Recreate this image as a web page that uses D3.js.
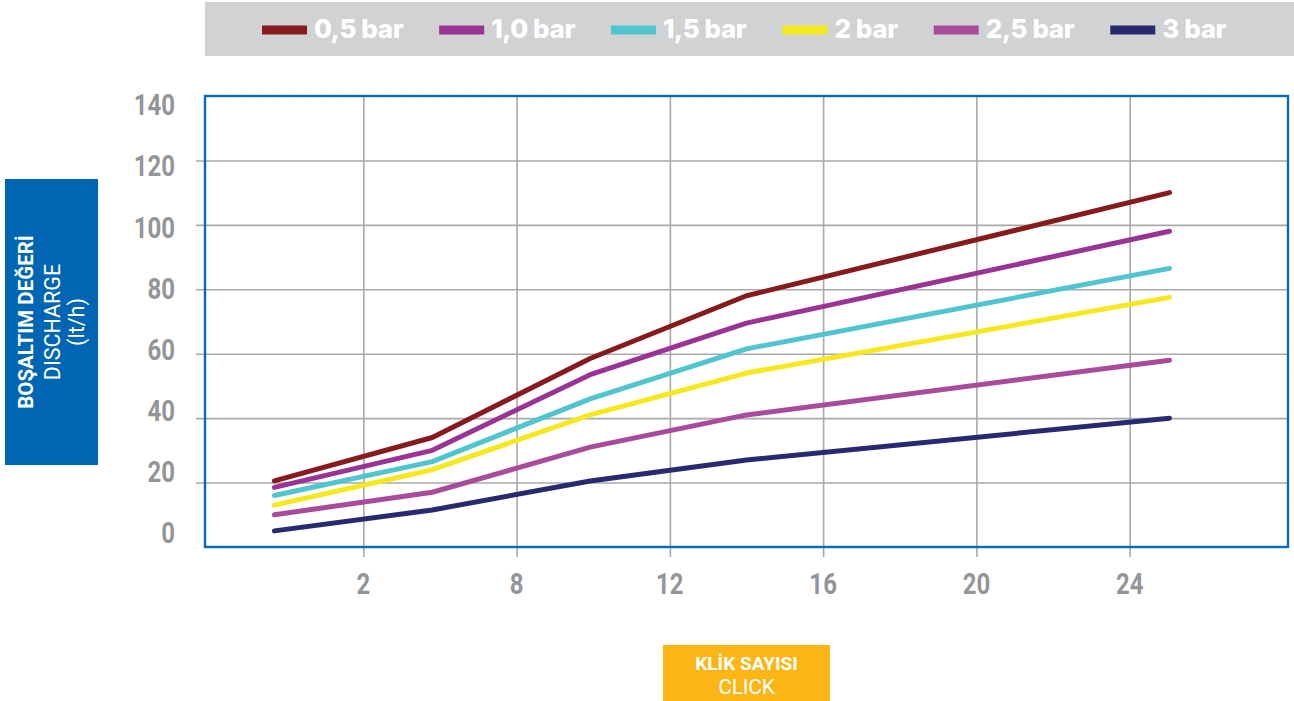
<!DOCTYPE html>
<html>
<head>
<meta charset="utf-8">
<script src="https://cdn.jsdelivr.net/npm/d3@7"></script>
<style>
  html, body { margin: 0; padding: 0; background: #ffffff; }
  svg { display: block; }
</style>
</head>
<body>
<svg id="chart" width="1294" height="701"></svg>
<script>
// Click-count categories on the horizontal axis
const clickTicks = ["2", "8", "12", "16", "20", "24"];
// Measurement positions along the click axis (in category-step units, 0 = "2")
const clickPos = [-0.58, 0.45, 1.48, 2.5, 5.26];

// Pressure series
const seriesNames = ["0,5 bar", "1,0 bar", "1,5 bar", "2 bar", "2,5 bar", "3 bar"];
const seriesColors = ["#861a1c", "#9a3494", "#50c5cf", "#f6e81e", "#a94b9b", "#272a6e"];

// Discharge values (lt/h)
const bar05 = [20.5, 34, 58.5, 78, 110];
const bar10 = [18.5, 30, 53.5, 69.5, 98];
const bar15 = [16, 26.5, 46, 61.5, 86.5];
const bar20 = [13, 24, 41, 54, 77.5];
const bar25 = [10, 17, 31, 41, 58];
const bar30 = [5, 11.5, 20.5, 27, 40];
const seriesValues = [bar05, bar10, bar15, bar20, bar25, bar30];

// Discharge axis ticks
const yTicks = [0, 20, 40, 60, 80, 100, 120, 140];

const svg = d3.select("#chart");

const plot = { left: 205, right: 1288, top: 96, bottom: 547 };

const x = d3.scaleLinear().domain([-1.033, 6.033]).range([plot.left, plot.right]);
const y = d3.scaleLinear().domain([0, 140]).range([plot.bottom, plot.top]);
// label column for the discharge axis is set slightly tighter than the grid
const yLabel = d3.scaleLinear().domain([0, 140]).range([532.5, 104.5]);

const gridColor = "#a7a9ac";
const labelGrey = "#939598";

// Horizontal grid lines
const yGrid = d3.axisLeft(y)
  .tickValues(yTicks.filter(v => v > 0 && v < 140))
  .tickSize(-(plot.right - 196))
  .tickFormat("");
svg.append("g")
  .attr("transform", `translate(196,0)`)
  .call(yGrid)
  .call(g => g.select(".domain").remove())
  .call(g => g.selectAll("line").attr("stroke", gridColor).attr("stroke-width", 1.6));

// Vertical grid lines
const xGrid = d3.axisBottom(x)
  .tickValues(d3.range(clickTicks.length))
  .tickSize(-(557 - plot.top))
  .tickFormat("");
svg.append("g")
  .attr("transform", `translate(0,557)`)
  .call(xGrid)
  .call(g => g.select(".domain").remove())
  .call(g => g.selectAll("line").attr("stroke", gridColor).attr("stroke-width", 1.6));

// Plot frame
svg.append("rect")
  .attr("x", plot.left).attr("y", plot.top)
  .attr("width", plot.right - plot.left).attr("height", plot.bottom - plot.top)
  .attr("fill", "none").attr("stroke", "#0a6ab5").attr("stroke-width", 2.4);

// Discharge tick labels (condensed bold digits)
const yl = svg.append("g").selectAll("g").data(yTicks).join("g")
  .attr("transform", d => `translate(175,${yLabel(d)}) scale(0.8,1)`);
yl.append("text")
  .attr("text-anchor", "end")
  .attr("dy", "0.36em")
  .attr("fill", labelGrey)
  .attr("font-family", "Roboto, sans-serif")
  .attr("font-weight", 700)
  .attr("font-size", 30)
  .text(d => d);

// Click tick labels
const xl = svg.append("g").selectAll("g").data(clickTicks).join("g")
  .attr("transform", (d, i) => `translate(${x(i)},583) scale(0.8,1)`);
xl.append("text")
  .attr("text-anchor", "middle")
  .attr("dy", "0.36em")
  .attr("fill", labelGrey)
  .attr("font-family", "Roboto, sans-serif")
  .attr("font-weight", 700)
  .attr("font-size", 30)
  .text(d => d);

// Series lines
const line = d3.line()
  .x((d, i) => x(clickPos[i]))
  .y(d => y(d));
svg.append("g").selectAll("path").data(seriesValues).join("path")
  .attr("d", d => line(d))
  .attr("fill", "none")
  .attr("stroke", (d, i) => seriesColors[i])
  .attr("stroke-width", 5)
  .attr("stroke-linecap", "round")
  .attr("stroke-linejoin", "round");

// Legend band
svg.append("rect")
  .attr("x", 205).attr("y", 2).attr("width", 1294 - 205).attr("height", 54)
  .attr("fill", "#d1d2d4");
const legend = svg.append("g");
let lx = 262;
seriesNames.forEach((name, i) => {
  legend.append("rect")
    .attr("x", lx).attr("y", 25.5).attr("width", 45).attr("height", 9)
    .attr("fill", seriesColors[i]);
  const t = legend.append("text")
    .attr("x", lx + 52).attr("y", 29).attr("dy", "0.36em")
    .attr("fill", "#ffffff")
    .attr("font-family", "Inter, sans-serif")
    .attr("font-weight", 800)
    .attr("font-size", 26)
    .attr("letter-spacing", -0.4)
    .text(name);
  lx += 52 + t.node().getComputedTextLength() + 36;
});

// Vertical axis title
svg.append("rect")
  .attr("x", 5).attr("y", 179).attr("width", 93).attr("height", 286)
  .attr("fill", "#0066b3");
const yTitle = svg.append("g").attr("transform", "translate(51.5,322) rotate(-90)");
yTitle.append("text")
  .attr("x", 0).attr("y", -26).attr("text-anchor", "middle").attr("dy", "0.36em")
  .attr("fill", "#fff").attr("font-family", "Roboto, sans-serif")
  .attr("font-weight", 700).attr("font-size", 20.5)
  .text("BOŞALTIM DEĞERİ");
yTitle.append("text")
  .attr("x", 0).attr("y", 1).attr("text-anchor", "middle").attr("dy", "0.36em")
  .attr("fill", "#fff").attr("font-family", "Roboto, sans-serif")
  .attr("font-weight", 400).attr("font-size", 21.5)
  .text("DISCHARGE");
yTitle.append("text")
  .attr("x", 0).attr("y", 25).attr("text-anchor", "middle").attr("dy", "0.36em")
  .attr("fill", "#fff").attr("font-family", "Roboto, sans-serif")
  .attr("font-weight", 400).attr("font-size", 21.5)
  .text("(lt/h)");

// Horizontal axis title
svg.append("rect")
  .attr("x", 663).attr("y", 645).attr("width", 167).attr("height", 56)
  .attr("fill", "#fbb616");
svg.append("text")
  .attr("x", 746.5).attr("y", 669.5).attr("text-anchor", "middle")
  .attr("fill", "#fff").attr("font-family", "Roboto, sans-serif")
  .attr("font-weight", 700).attr("font-size", 19)
  .text("KLİK SAYISI");
svg.append("text")
  .attr("x", 746.5).attr("y", 694).attr("text-anchor", "middle")
  .attr("fill", "#fff").attr("font-family", "Roboto, sans-serif")
  .attr("font-weight", 400).attr("font-size", 21).attr("letter-spacing", -0.2)
  .text("CLICK");
</script>
</body>
</html>
